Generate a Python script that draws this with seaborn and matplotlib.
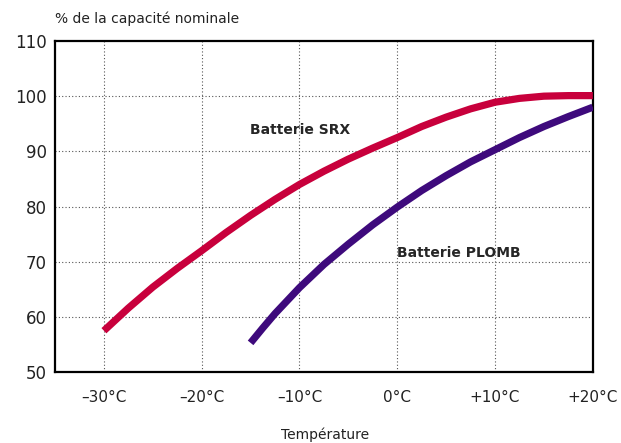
import pandas as pd
import matplotlib
matplotlib.use("Agg")
import matplotlib.pyplot as plt
import seaborn as sns

# valeurs
temp_srx = [-30, -27.5, -25, -22.5, -20, -17.5, -15, -12.5, -10, -7.5, -5,
            -2.5, 0, 2.5, 5, 7.5, 10, 12.5, 15, 17.5, 20]
cap_srx = [57.5, 61.6, 65.4, 68.8, 72.0, 75.3, 78.4, 81.3, 84.0, 86.4, 88.6,
           90.6, 92.5, 94.5, 96.2, 97.7, 98.9, 99.6, 100.0, 100.1, 100.1]
temp_plomb = [-15, -13.75, -12.5, -10, -7.5, -5, -2.5, 0, 2.5, 5, 7.5, 10,
              12.5, 15, 17.5, 20]
cap_plomb = [55.3, 58.0, 60.6, 65.3, 69.5, 73.2, 76.7, 79.9, 82.9, 85.6, 88.1,
             90.3, 92.5, 94.5, 96.3, 98.0]

x_ticks = [-30, -20, -10, 0, 10, 20]
x_labels = ["–30°C", "–20°C", "–10°C", "0°C", "+10°C", "+20°C"]
y_ticks = [50, 60, 70, 80, 90, 100, 110]

df = pd.concat([
    pd.DataFrame({"temp": temp_srx, "cap": cap_srx, "serie": "SRX"}),
    pd.DataFrame({"temp": temp_plomb, "cap": cap_plomb, "serie": "PLOMB"}),
])

sns.set_style("white")
plt.rcParams['font.family'] = ['DejaVu Sans']

fig = plt.figure(figsize=(6.21, 4.43), dpi=100)
ax = fig.add_axes([0.0886, 0.160, 0.866, 0.7475])

sns.lineplot(data=df, x="temp", y="cap", hue="serie", sort=False,
             palette={"SRX": "#C8003C", "PLOMB": "#3E0A7C"},
             linewidth=5.2, legend=False, ax=ax, solid_capstyle="butt",
             solid_joinstyle="round", zorder=3)

ax.set_xlim(-35, 20)
ax.set_ylim(50, 110)
ax.set_xticks(x_ticks)
ax.set_xticklabels(x_labels)
ax.set_yticks(y_ticks)
ax.tick_params(axis='x', length=0, pad=13, labelsize=11, colors='#222222')
ax.tick_params(axis='y', length=0, pad=6, labelsize=12, colors='#222222')

# grille pointillée
for xv in x_ticks[:-1]:
    ax.axvline(xv, color='#555555', linestyle=(0, (1, 2)), linewidth=0.8, zorder=1)
for yv in y_ticks[1:-1]:
    ax.axhline(yv, color='#555555', linestyle=(0, (1, 2)), linewidth=0.8, zorder=1)

for s in ax.spines.values():
    s.set_color('black')
    s.set_linewidth(1.6)

ax.set_xlabel("")
ax.set_ylabel("")
fig.text(0.0886, 0.958, "% de la capacité nominale", fontsize=10, ha='left', va='center', color='#222222')
fig.text(0.523, 0.018, "Température", fontsize=10, ha='center', va='center', color='#222222')

ax.text(-15.1, 93.8, "Batterie SRX", fontsize=10, fontweight='bold', va='center', ha='left', zorder=4)
ax.text(0.0, 71.6, "Batterie PLOMB", fontsize=10, fontweight='bold', va='center', ha='left', zorder=4)

fig.savefig("out.png", dpi=100)
